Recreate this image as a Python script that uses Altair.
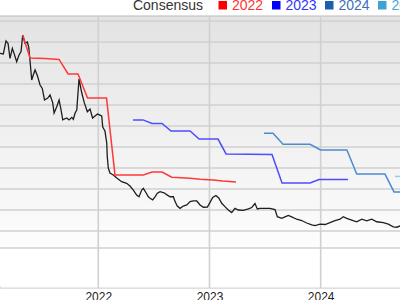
import altair as alt
import pandas as pd

# ---- data (time as fractional year, value in chart units) ----
price_t = [2021.116, 2021.146, 2021.170, 2021.188, 2021.206, 2021.227, 2021.242, 2021.266, 2021.287, 2021.305,
           2021.320, 2021.341, 2021.362, 2021.374, 2021.386, 2021.401, 2021.415, 2021.431, 2021.453, 2021.476,
           2021.496, 2021.516, 2021.545, 2021.566, 2021.590, 2021.602, 2021.626, 2021.647, 2021.665, 2021.680,
           2021.716, 2021.737, 2021.761, 2021.775, 2021.791, 2021.806, 2021.826, 2021.851, 2021.874, 2021.901,
           2021.925, 2021.948, 2021.970, 2021.993, 2022.015, 2022.031, 2022.040, 2022.060, 2022.076, 2022.081,
           2022.090, 2022.105, 2022.135, 2022.166, 2022.210, 2022.255, 2022.285, 2022.315, 2022.345, 2022.366,
           2022.390, 2022.405, 2022.429, 2022.450, 2022.465, 2022.489, 2022.510, 2022.531, 2022.555, 2022.591,
           2022.621, 2022.645, 2022.675, 2022.690, 2022.710, 2022.735, 2022.764, 2022.795, 2022.825, 2022.854,
           2022.885, 2022.915, 2022.944, 2022.980, 2023.004, 2023.029, 2023.058, 2023.085, 2023.110, 2023.139,
           2023.169, 2023.200, 2023.229, 2023.259, 2023.304, 2023.349, 2023.380, 2023.409, 2023.430, 2023.454,
           2023.499, 2023.544, 2023.589, 2023.610, 2023.649, 2023.679, 2023.709, 2023.739, 2023.784, 2023.829,
           2023.874, 2023.919, 2023.949, 2023.994, 2024.039, 2024.084, 2024.129, 2024.174, 2024.203, 2024.234,
           2024.279, 2024.324, 2024.369, 2024.414, 2024.459, 2024.504, 2024.563, 2024.608, 2024.653, 2024.684,
           2024.713]
price_v = [84.6, 84.3, 90.5, 89.4, 82.2, 87.0, 84.6, 80.6, 83.8, 85.4,
           93.3, 89.4, 90.0, 87.6, 81.0, 71.9, 74.3, 76.7, 73.8, 69.5,
           67.9, 62.4, 63.3, 64.8, 61.0, 56.2, 59.2, 62.4, 57.6, 52.9,
           53.8, 52.9, 54.1, 53.2, 56.2, 57.6, 72.4, 65.7, 61.0, 56.8,
           58.1, 53.8, 54.8, 55.7, 55.2, 54.8, 49.5, 47.6, 41.9, 35.2,
           30.0, 27.6, 26.7, 25.2, 23.5, 22.7, 21.4, 19.5, 17.1, 16.3,
           19.5, 20.3, 18.2, 16.3, 15.6, 14.8, 16.3, 18.0, 18.7, 18.2,
           17.1, 16.3, 16.3, 14.0, 11.9, 10.8, 11.9, 12.4, 14.0, 14.3,
           14.3, 12.4, 11.3, 11.4, 13.5, 16.0, 16.9, 15.6, 13.2, 11.6,
           10.0, 8.8, 10.8, 10.0, 9.8, 10.5, 11.2, 13.1, 10.5, 10.8,
           10.8, 10.8, 10.2, 6.8, 6.0, 6.7, 7.4, 6.7, 5.6, 5.0,
           3.8, 2.9, 2.6, 3.3, 3.1, 4.0, 4.9, 5.6, 6.8, 6.0,
           5.2, 4.4, 5.6, 4.8, 5.6, 4.4, 3.95, 3.3, 2.0, 1.8,
           2.4]

c2022_t = [2021.320, 2021.386, 2021.521, 2021.647, 2021.728, 2021.817, 2021.903, 2022.074, 2022.150, 2022.405,
           2022.483, 2022.573, 2022.660, 2022.825, 2022.915, 2023.032, 2023.121, 2023.238]
c2022_v = [93.3, 82.4, 82.1, 81.7, 74.8, 74.8, 63.3, 63.3, 26.7, 26.7,
           28.1, 28.1, 25.6, 25.1, 24.6, 24.3, 23.8, 23.3]

c2023_t = [2022.312, 2022.402, 2022.483, 2022.573, 2022.654, 2022.825, 2022.906, 2023.077, 2023.149, 2023.562,
           2023.652, 2023.904, 2023.985, 2024.246]
c2023_v = [52.9, 52.9, 51.2, 51.2, 47.6, 47.6, 43.8, 43.8, 36.7, 36.4,
           22.9, 22.9, 24.5, 24.5]

c2024_t = [2023.490, 2023.571, 2023.661, 2023.904, 2023.998, 2024.236, 2024.324, 2024.578, 2024.659, 2024.750]
c2024_v = [46.5, 46.5, 41.3, 41.3, 38.6, 38.6, 27.1, 27.1, 18.6, 18.6]

c2025_t = [2024.668, 2024.750]
c2025_v = [26.0, 26.0]

series_names = ["2022", "2023", "2024", "2025"]
line_colors = ["#ff3838", "#4d4dff", "#4b8bd0", "#8fcfee"]
square_colors = ["#ff0000", "#0000ff", "#1a5faf", "#3ea3d3"]
label_colors = ["#ff3333", "#3333ff", "#3d6fba", "#4aa6d6"]
year_ticks = [2022, 2023, 2024]
grid_values = [-8.1, 0, 10, 20, 30, 40, 50, 60, 70, 80, 90, 100, 102.3]
base_values = [-27.0]

X_START, X_END = 2021.116, 2024.713
Y_MIN, Y_MAX = -27.14, 102.38


def to_date(y):
    yr = int(y)
    return pd.Timestamp(year=yr, month=1, day=1) + pd.Timedelta(days=(y - yr) * 365.25)


price_df = pd.DataFrame({"date": [to_date(t) for t in price_t], "value": price_v})
cons_rows = []
for name, ts, vs in zip(series_names, [c2022_t, c2023_t, c2024_t, c2025_t],
                        [c2022_v, c2023_v, c2024_v, c2025_v]):
    for t, v in zip(ts, vs):
        cons_rows.append({"date": to_date(t), "value": v, "series": name})
cons_df = pd.DataFrame(cons_rows)
hgrid_df = pd.DataFrame({"value": grid_values})
base_df = pd.DataFrame({"value": base_values})
vgrid_df = pd.DataFrame({"date": [pd.Timestamp(year=y, month=1, day=1) for y in year_ticks]})

FONT = "Liberation Sans"
GRID = "#d0d0d0"
d0, d1 = to_date(X_START), to_date(X_END)
xscale = alt.Scale(domain=[d0.isoformat(), d1.isoformat()])
yscale = alt.Scale(domain=[Y_MIN, Y_MAX], nice=False, zero=False)

xaxis = alt.Axis(values=[alt.DateTime(year=y, month=1, date=1) for y in year_ticks],
                 format="%Y", title=None, ticks=False, labelPadding=3, domain=False,
                 labelFont=FONT, labelFontSize=12, labelColor="#222222",
                 grid=False, labelFlush=False)
yaxis = None

one = pd.DataFrame({"a": [0]})
bg = alt.Chart(one).mark_rect(
    color=alt.Gradient(gradient="linear",
                       stops=[alt.GradientStop(color="#e3e3e3", offset=0),
                              alt.GradientStop(color="#fdfdfd", offset=1)],
                       x1=0, x2=0, y1=0, y2=1)
).encode(x=alt.value(0), x2=alt.value(400), y=alt.value(0), y2=alt.value(232))

hgrid = alt.Chart(hgrid_df).mark_rule(color=GRID, strokeWidth=1.6).encode(
    y=alt.Y("value:Q", scale=yscale, axis=yaxis),
)
base = alt.Chart(base_df).mark_rule(color="#e6e6e6", strokeWidth=1).encode(
    y=alt.Y("value:Q", scale=yscale, axis=yaxis),
)
vgrid = alt.Chart(vgrid_df).mark_rule(color=GRID, strokeWidth=1.6).encode(
    x=alt.X("date:T", scale=xscale, axis=xaxis),
)

price_line = alt.Chart(price_df).mark_line(color="#1e1e1e", strokeWidth=1.3, clip=True).encode(
    x=alt.X("date:T", scale=xscale, axis=xaxis),
    y=alt.Y("value:Q", scale=yscale, axis=yaxis),
)

cons_lines = alt.Chart(cons_df).mark_line(strokeWidth=1.5, clip=True).encode(
    x=alt.X("date:T", scale=xscale, axis=xaxis),
    y=alt.Y("value:Q", scale=yscale, axis=yaxis),
    color=alt.Color("series:N", scale=alt.Scale(domain=series_names, range=line_colors), legend=None),
)

# white cover over the lower strip's left edge
cover = alt.Chart(one).mark_rect(color="white").encode(
    x=alt.value(-2), x2=alt.value(2), y=alt.value(233), y2=alt.value(270))

# ---- legend (top) ----
legend_layers = [
    alt.Chart(one).mark_text(
        text="Consensus", align="right", baseline="alphabetic", font=FONT, fontSize=14, color="#333333"
    ).encode(x=alt.value(203), y=alt.value(-6))
]
sq_x = [218.5, 272, 325, 378]
for name, sx, sc, lc in zip(series_names, sq_x, square_colors, label_colors):
    legend_layers.append(
        alt.Chart(one).mark_rect(color=sc).encode(
            x=alt.value(sx), x2=alt.value(sx + 8.5), y=alt.value(-15), y2=alt.value(-6.5))
    )
    legend_layers.append(
        alt.Chart(one).mark_text(
            text=name, align="left", baseline="alphabetic", font=FONT, fontSize=14, color=lc
        ).encode(x=alt.value(sx + 13.5), y=alt.value(-6))
    )

chart = alt.layer(bg, hgrid, base, vgrid, price_line, cons_lines, cover, *legend_layers).properties(
    width=400, height=272,
    padding={"top": 16, "left": 0, "right": 0, "bottom": 12},
    autosize=alt.AutoSizeParams(type="none"),
).configure_view(strokeWidth=0).configure_axis(domain=False).configure(background="white")

chart.save("out.html", embed_options={"renderer": "svg", "actions": False})
